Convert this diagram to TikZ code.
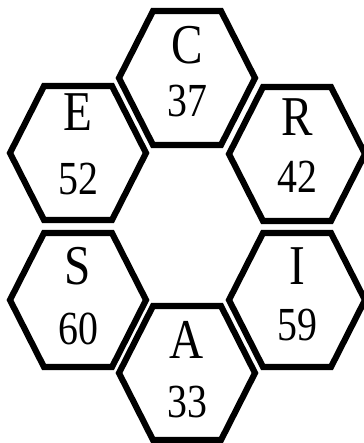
\documentclass[tikz,border=0pt]{standalone}
\usepackage{fontspec}
\setmainfont{Liberation Serif}
\newfontfamily\hexfont[FakeStretch=0.84]{Liberation Serif}
\usepackage{tikz}

\tikzset{
  hexline/.style={line width=3.5pt},
  letter/.style={inner sep=0pt,font=\hexfont\fontsize{32}{32}\selectfont},
  count/.style={inner sep=0pt,font=\hexfont\fontsize{27}{27}\selectfont},
  hexcell/.pic={\draw[hexline] (-34,-67) -- (34,-67) -- (68,0) -- (34,67) -- (-34,67) -- (-68,0) -- cycle;}
}

\begin{document}
\begin{tikzpicture}[x={(0.02cm,0cm)},y={(0cm,-0.02cm)}]
\useasboundingbox (0,0) rectangle (364,443);
% the six cells
\pic (hexC) at (187,78) {hexcell};
\pic (hexE) at (78,153) {hexcell};
\pic (hexR) at (297,154) {hexcell};
\pic (hexS) at (78,300) {hexcell};
\pic (hexI) at (297,300) {hexcell};
\pic (hexA) at (187,373) {hexcell};
% letters
\node[letter] (letC) at (187,45) {C};
\node[letter] (letE) at (78,112) {E};
\node[letter] (letR) at (297,117) {R};
\node[letter] (letS) at (78,266) {S};
\node[letter] (letI) at (297,266) {I};
\node[letter] (letA) at (187,340) {A};
% numbers
\node[count] (numC) at (187,101) {37};
\node[count] (numE) at (78,179) {52};
\node[count] (numR) at (297,177) {42};
\node[count] (numS) at (78,329) {60};
\node[count] (numI) at (297,325) {59};
\node[count] (numA) at (187,402) {33};
\end{tikzpicture}
\end{document}
